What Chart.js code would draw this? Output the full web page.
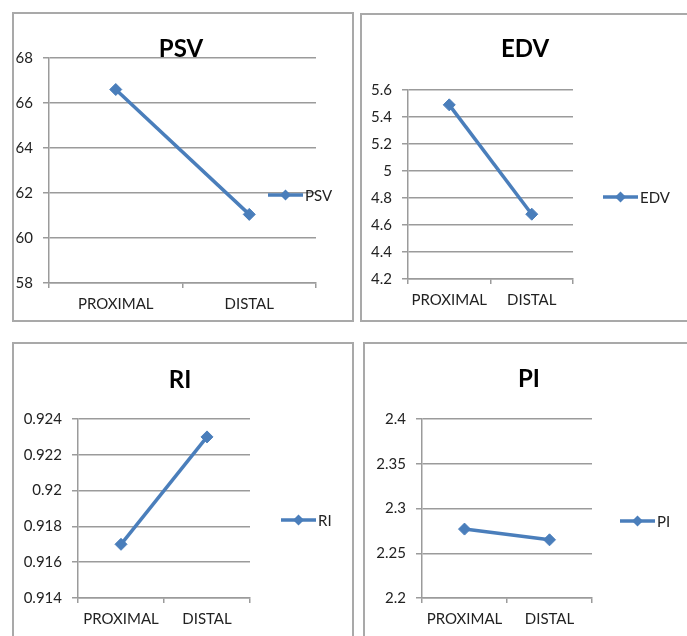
<!DOCTYPE html>
<html>
<head>
<meta charset="utf-8">
<title>PSV, EDV, RI and PI: proximal vs distal</title>
<script src="https://cdn.jsdelivr.net/npm/chart.js@4/dist/chart.umd.min.js"></script>
<style>
  html, body { margin: 0; padding: 0; background: #fff; width: 687px; height: 636px; overflow: hidden; }
  .frame { position: absolute; box-sizing: border-box; border: 2px solid #a9a9a9; }
  canvas { position: absolute; }
</style>
</head>
<body>
<script>
// Measurement sites (x categories)
const sites = ['PROXIMAL', 'DISTAL'];

// Mean values per index
const psvValues = [66.6, 61.05];
const edvValues = [5.49, 4.68];
const riValues  = [0.917, 0.923];
const piValues  = [2.277, 2.265];

// Value-axis tick labels
const psvTicks = [58, 60, 62, 64, 66, 68];
const edvTicks = [4.2, 4.4, 4.6, 4.8, 5, 5.2, 5.4, 5.6];
const riTicks  = [0.914, 0.916, 0.918, 0.92, 0.922, 0.924];
const piTicks  = [2.2, 2.25, 2.3, 2.35, 2.4];

const FONT = "Lato, 'Open Sans', sans-serif";
const BLUE = '#4a7ebb';
const GRID = '#9b9b9b';
const TXT = '#222222';
const LEG_LINE = 35;

// Panel layout: frame box [left, top, width, height], plot area [left, top, right, bottom],
// title centre/baseline and legend anchor, all in page pixels.
const panels = [
  { name: 'PSV', values: psvValues, ticks: psvTicks,
    box: [12, 12, 342, 310], area: [49, 58, 316, 283], title: [181, 57], legend: [268, 195] },
  { name: 'EDV', values: edvValues, ticks: edvTicks,
    box: [360, 13, 340, 309], area: [408, 90, 573, 279], title: [525, 57], legend: [603, 197] },
  { name: 'RI', values: riValues, ticks: riTicks,
    box: [12, 342, 342, 310], area: [78, 419, 250, 598], title: [180, 388], legend: [281, 520] },
  { name: 'PI', values: piValues, ticks: piTicks,
    box: [363, 342, 340, 310], area: [422, 419, 592, 598], title: [529, 387], legend: [620, 521] }
];

// Draws the chart title and the single-entry legend (line + diamond + label)
const panelText = {
  id: 'panelText',
  afterDraw(chart, args, opts) {
    const ctx = chart.ctx;
    const ds = chart.data.datasets[0];
    ctx.save();
    ctx.fillStyle = '#000';
    ctx.font = 'bold 24px ' + FONT;
    ctx.textAlign = 'center';
    ctx.textBaseline = 'alphabetic';
    ctx.fillText(ds.label, opts.titleX, opts.titleY);

    const lx = opts.legendX, ly = opts.legendY;
    ctx.strokeStyle = ds.borderColor;
    ctx.lineWidth = ds.borderWidth;
    ctx.beginPath();
    ctx.moveTo(lx, ly);
    ctx.lineTo(lx + LEG_LINE, ly);
    ctx.stroke();
    const cx = lx + LEG_LINE / 2, r = 5.5;
    ctx.fillStyle = ds.backgroundColor;
    ctx.beginPath();
    ctx.moveTo(cx, ly - r);
    ctx.lineTo(cx + r, ly);
    ctx.lineTo(cx, ly + r);
    ctx.lineTo(cx - r, ly);
    ctx.closePath();
    ctx.fill();

    ctx.fillStyle = TXT;
    ctx.font = '15px ' + FONT;
    ctx.textAlign = 'left';
    ctx.textBaseline = 'middle';
    ctx.fillText(ds.label, lx + LEG_LINE + 2, ly + 1);
    ctx.restore();
  }
};

const X_H = 30;

panels.forEach(p => {
  const [bx, by, bw, bh] = p.box;
  const [al, at, ar, ab] = p.area;
  const yW = al - bx;   // value axis fills the space left of the plot area

  const frame = document.createElement('div');
  frame.className = 'frame';
  frame.style.left = bx + 'px';
  frame.style.top = by + 'px';
  frame.style.width = bw + 'px';
  frame.style.height = bh + 'px';
  document.body.appendChild(frame);

  const canvas = document.createElement('canvas');
  canvas.width = bw;
  canvas.height = bh;
  canvas.style.left = bx + 'px';
  canvas.style.top = by + 'px';
  canvas.style.width = bw + 'px';
  canvas.style.height = bh + 'px';
  document.body.appendChild(canvas);

  new Chart(canvas, {
    type: 'line',
    data: {
      labels: sites,
      datasets: [{
        label: p.name,
        data: p.values,
        borderColor: BLUE,
        backgroundColor: BLUE,
        borderWidth: 3.5,
        tension: 0,
        pointStyle: 'rectRot',
        pointRadius: 6,
        pointHoverRadius: 6,
        pointBorderWidth: 1,
        pointBackgroundColor: BLUE,
        pointBorderColor: BLUE
      }]
    },
    options: {
      responsive: false,
      animation: false,
      events: [],
      layout: {
        padding: {
          left: 0,
          top: at - by,
          right: bx + bw - ar,
          bottom: by + bh - ab - X_H
        }
      },
      plugins: {
        legend: { display: false },
        title: { display: false },
        tooltip: { enabled: false },
        panelText: {
          titleX: p.title[0] - bx, titleY: p.title[1] - by,
          legendX: p.legend[0] - bx, legendY: p.legend[1] - by
        }
      },
      scales: {
        x: {
          offset: true,
          grid: { offset: true, drawOnChartArea: false, drawTicks: true, tickLength: 5, color: GRID, lineWidth: 1.5 },
          border: { color: GRID, width: 1.5 },
          ticks: { color: TXT, font: { family: FONT, size: 15 }, padding: 7, maxRotation: 0, autoSkip: false },
          afterFit: s => { s.height = X_H; }
        },
        y: {
          min: p.ticks[0],
          max: p.ticks[p.ticks.length - 1],
          afterBuildTicks: s => { s.ticks = p.ticks.map(v => ({ value: v })); },
          grid: { color: GRID, lineWidth: 1.5, tickLength: 6 },
          border: { color: GRID, width: 1.5 },
          ticks: { color: TXT, font: { family: FONT, size: 15 }, padding: 10, callback: v => String(v) },
          afterFit: s => { s.width = yW; }
        }
      }
    },
    plugins: [panelText]
  });
});
</script>
</body>
</html>
